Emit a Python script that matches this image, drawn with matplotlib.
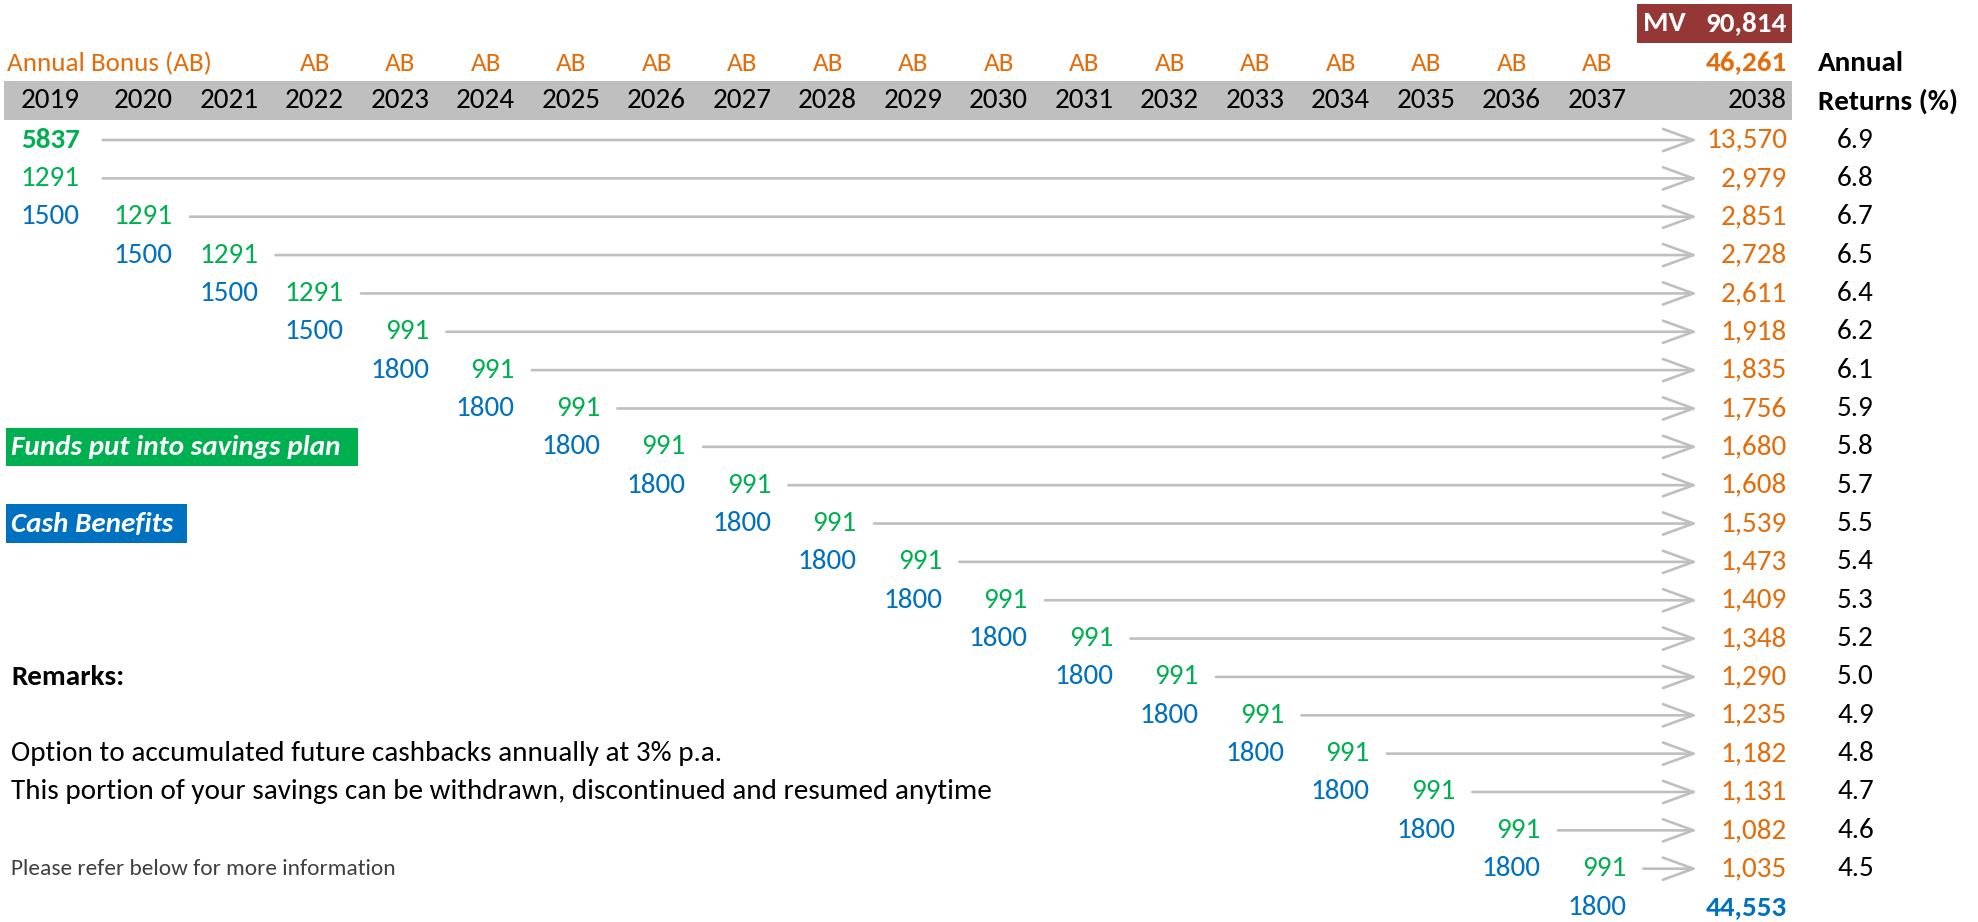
"""
Savings plan cash-flow table: funds in, cash benefits out, values at 2038.
Output: out.png
"""

import matplotlib.pyplot as plt
from matplotlib.patches import Rectangle, FancyArrowPatch

# ---- data -------------------------------------------------------------
years = [2019, 2020, 2021, 2022, 2023, 2024, 2025, 2026, 2027, 2028,
         2029, 2030, 2031, 2032, 2033, 2034, 2035, 2036, 2037, 2038]
ab_years = [2022, 2023, 2024, 2025, 2026, 2027, 2028, 2029, 2030, 2031,
            2032, 2033, 2034, 2035, 2036, 2037]

# funds put in (one per row, rows 0..19)
fund_years = [2019, 2019, 2020, 2021, 2022, 2023, 2024, 2025, 2026, 2027,
              2028, 2029, 2030, 2031, 2032, 2033, 2034, 2035, 2036, 2037]
fund_amounts = [5837, 1291, 1291, 1291, 1291, 991, 991, 991, 991, 991,
                991, 991, 991, 991, 991, 991, 991, 991, 991, 991]

# cash benefits paid out (rows 2..20)
cash_years = [2019, 2020, 2021, 2022, 2023, 2024, 2025, 2026, 2027, 2028,
              2029, 2030, 2031, 2032, 2033, 2034, 2035, 2036, 2037]
cash_amounts = [1500, 1500, 1500, 1500, 1800, 1800, 1800, 1800, 1800, 1800,
                1800, 1800, 1800, 1800, 1800, 1800, 1800, 1800, 1800]

# value of each row at 2038 and its annual return
values_2038 = [13570, 2979, 2851, 2728, 2611, 1918, 1835, 1756, 1680, 1608,
               1539, 1473, 1409, 1348, 1290, 1235, 1182, 1131, 1082, 1035]
annual_returns = [6.9, 6.8, 6.7, 6.5, 6.4, 6.2, 6.1, 5.9, 5.8, 5.7,
                  5.5, 5.4, 5.3, 5.2, 5.0, 4.9, 4.8, 4.7, 4.6, 4.5]

total_bonus = 46261
total_cash = 44553
total_mv = 90814

remarks = [
    "Option to accumulated future cashbacks annually at 3% p.a.",
    "This portion of your savings can be withdrawn, discontinued and resumed anytime",
]

# ---- style ------------------------------------------------------------
GREEN = "#00b050"
BLUE = "#0070c0"
ORANGE = "#e46c0a"
GREY = "#bfbfbf"
MAROON = "#953735"
FS = 21

plt.rcParams["font.family"] = ["Carlito", "Lato", "DejaVu Sans"]

fig = plt.figure(figsize=(19.78, 9.22), dpi=100, facecolor="white")
ax = fig.add_axes([0, 0, 1, 1])
ax.set_xlim(2017.979, 2041.113)
ax.set_ylim(20.39, -3.651)
ax.axis("off")

END_X = 2038.88      # right edge of the 2038 column
FIRST_X = 2018.91    # right edge of the 2019 column
TIP_X = 2037.83      # arrow tip
RET_X = 2039.68


def col_x(year):
    if year == 2019:
        return FIRST_X
    if year == 2038:
        return END_X
    return year


# MV box
ax.add_patch(Rectangle((2037.12, -3.55), 1.82, 1.02, color=MAROON, lw=0, zorder=1))
ax.text(2037.2, -3.04, "MV", color="white", fontsize=FS, fontweight="bold",
        ha="left", va="center", zorder=2)
ax.text(END_X, -3.04, f"{total_mv:,}", color="white", fontsize=FS,
        fontweight="bold", ha="right", va="center", zorder=2)

# annual bonus row
ax.text(2018.06, -2, "Annual Bonus (AB)", color=ORANGE, fontsize=FS * 0.93,
        ha="left", va="center")
for y in ab_years:
    ax.text(y - 0.34, -2, "AB", color=ORANGE, fontsize=FS * 0.93,
            ha="center", va="center")
ax.text(END_X, -2, f"{total_bonus:,}", color=ORANGE, fontsize=FS,
        fontweight="bold", ha="right", va="center")
ax.text(2039.24, -2, "Annual", fontsize=FS, fontweight="bold",
        ha="left", va="center")
ax.text(2039.24, -1, "Returns (%)", fontsize=FS, fontweight="bold",
        ha="left", va="center")

# header band with years
ax.add_patch(Rectangle((2018.03, -1.54), 20.91, 1.02, color=GREY, lw=0, zorder=0))
for y in years:
    ax.text(col_x(y), -1.03, str(y), fontsize=FS, ha="right", va="center")

# funds + arrows + values at 2038
for r, (fy, amt) in enumerate(zip(fund_years, fund_amounts)):
    ax.text(col_x(fy), r, str(amt), color=GREEN, fontsize=FS,
            fontweight="bold" if r == 0 else "normal", ha="right", va="center")
    start = col_x(fy) + (0.27 if fy == 2019 else 0.2)
    ax.add_patch(FancyArrowPatch((start, r), (TIP_X, r),
                                 arrowstyle="->,head_length=1.1,head_width=0.4",
                                 mutation_scale=20, color=GREY, lw=1.9,
                                 shrinkA=0, shrinkB=0))
    ax.text(END_X, r, f"{values_2038[r]:,}", color=ORANGE, fontsize=FS,
            ha="right", va="center")
    ax.text(RET_X, r, f"{annual_returns[r]:.1f}", fontsize=FS,
            ha="center", va="center")

# cash benefits
for i, (cy, amt) in enumerate(zip(cash_years, cash_amounts)):
    ax.text(col_x(cy), i + 2, str(amt), color=BLUE, fontsize=FS,
            ha="right", va="center")
ax.text(END_X, 20, f"{total_cash:,}", color=BLUE, fontsize=FS,
        fontweight="bold", ha="right", va="center")

# legend boxes
ax.add_patch(Rectangle((2018.05, 7.5), 4.12, 1.0, color=GREEN, lw=0))
ax.text(2018.11, 8, "Funds put into savings plan", color="white", fontsize=FS,
        fontweight="bold", fontstyle="italic", ha="left", va="center")
ax.add_patch(Rectangle((2018.05, 9.5), 2.12, 1.0, color=BLUE, lw=0))
ax.text(2018.11, 10, "Cash Benefits", color="white", fontsize=FS,
        fontweight="bold", fontstyle="italic", ha="left", va="center")

# remarks
ax.text(2018.11, 14, "Remarks:", fontsize=FS, fontweight="bold",
        ha="left", va="center")
for k, line in enumerate(remarks):
    ax.text(2018.11, 16 + k, line, fontsize=FS, ha="left", va="center")
ax.text(2018.11, 19, "Please refer below for more information", color="#404040",
        fontsize=FS * 0.8, ha="left", va="center")

fig.savefig("out.png", dpi=100, facecolor="white")
